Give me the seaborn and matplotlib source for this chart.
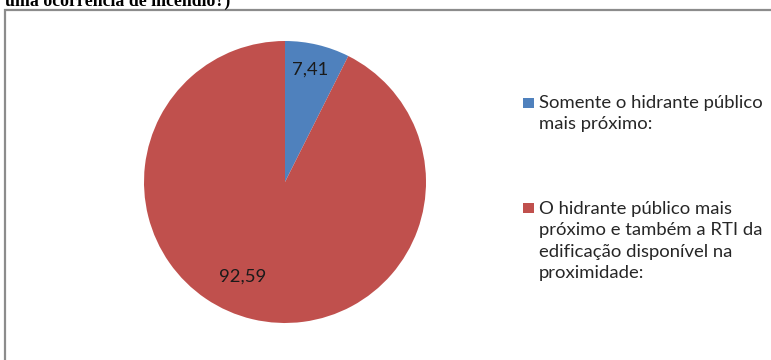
import matplotlib
matplotlib.use("Agg")
import matplotlib.pyplot as plt
import seaborn as sns
from matplotlib.patches import Rectangle

sns.set_style("white")
plt.rcParams['font.family'] = ['Lato', 'DejaVu Sans']

categories = [
    "Somente o hidrante público\nmais próximo:",
    "O hidrante público mais\npróximo e também a RTI da\nedificação disponível na\nproximidade:",
]
values = [7.41, 92.59]
value_labels = ["7,41", "92,59"]
colors = ["#4F81BD", "#C0504D"]
title_text = "uma ocorrência de incêndio?)"

W, H = 771, 360
fig = plt.figure(figsize=(W / 100, H / 100), dpi=100)

# border box
fig.patches.append(Rectangle((5 / W, -0.1), 1.2, 1 - 10 / H + 0.1, transform=fig.transFigure,
                             fill=False, edgecolor="#8c8c8c", linewidth=1.6, zorder=0))

fig.text(5 / W, 1 - 6 / H, title_text, family=["Liberation Serif"], fontweight="bold",
         fontsize=12.8, va="baseline", ha="left", color="black")

# pie axes: center (285,182), radius 141
cx, cy, r = 285, 182, 141
ax = fig.add_axes([(cx - r) / W, 1 - (cy + r) / H, 2 * r / W, 2 * r / H])
wedges, texts = ax.pie(values, colors=colors, startangle=90, counterclock=False,
                       radius=1, wedgeprops=dict(linewidth=0))
ax.set_xlim(-1, 1)
ax.set_ylim(-1, 1)
ax.set_aspect("equal")
ax.axis("off")

# value labels
ax.text(0.18, 0.80, value_labels[0], ha="center", va="center", fontsize=13.3, color="#1a1a1a")
ax.text(-0.30, -0.67, value_labels[1], ha="center", va="center", fontsize=13.3, color="#1a1a1a")

# legend (drawn as figure artists)
entry_tops = [95, 201]
square_tops = [98, 203]
for lab, col, ty, sy in zip(categories, colors, entry_tops, square_tops):
    fig.patches.append(Rectangle((523 / W, 1 - (sy + 10) / H), 11 / W, 10 / H,
                                 transform=fig.transFigure, facecolor=col, edgecolor="none"))
    fig.text(539 / W, 1 - ty / H, lab, ha="left", va="top", fontsize=13.3,
             color="#262626", linespacing=1.42)

fig.savefig("out.png", dpi=100, facecolor="white")
